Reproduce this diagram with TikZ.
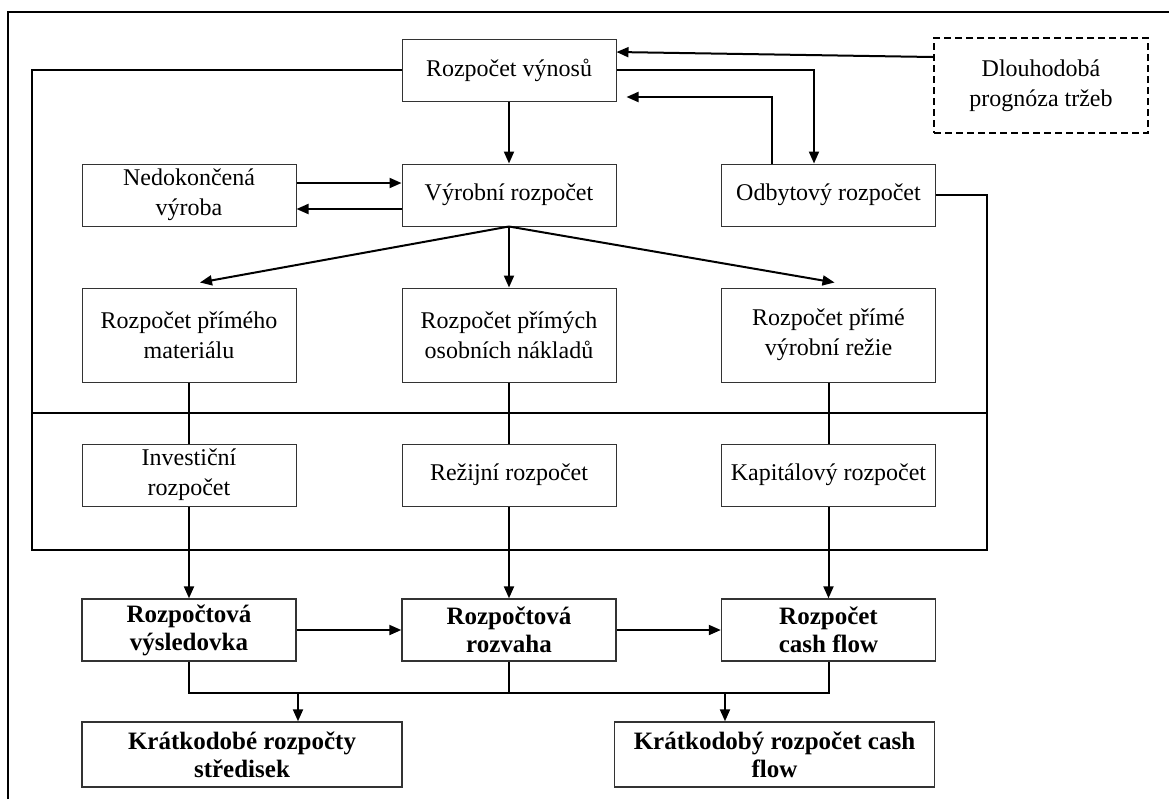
\documentclass[tikz,border=0pt]{standalone}
\usepackage{fontspec}
\setmainfont{Liberation Serif}
\usetikzlibrary{arrows.meta}

\begin{document}
\begin{tikzpicture}[x=0.5pt,y=-0.5pt,
    box/.style={draw=black!80, line width=0.5pt, minimum width=107pt, minimum height=31pt,
        inner sep=0pt, align=center, font=\fontsize{12}{15}\selectfont},
    hibox/.style={box, minimum height=47pt},
    dashbox/.style={box, draw=black, line width=1pt, dash pattern=on 3.5pt off 2pt, minimum height=47.5pt},
    boldbox/.style={box, line width=0.7pt, font=\fontsize{12.5}{14}\selectfont\bfseries},
    widebox/.style={boldbox, minimum width=160pt, minimum height=32.5pt},
    arr/.style={line width=1pt, -{Triangle[length=6pt,width=5pt]}},
    link/.style={line width=1pt}]
    \useasboundingbox (0,0) rectangle (1169,799);

    % --- Cadre extérieur ---
    \coordinate (fa) at (8,799);
    \coordinate (fb) at (8,12);
    \coordinate (fc) at (1169,12);
    \draw[line width=1pt] (fa) -- (fb) -- (fc);

    % --- Rozpočty ---
    \node[box] (vynos) at (509,70) {Rozpočet výnosů};
    \node[dashbox] (prognoza) at (1041,85.5) {Dlouhodobá\\prognóza tržeb};
    \node[box] (nedok) at (189,195) {Nedokončená\\výroba};
    \node[box] (vyrob) at (509,195) {Výrobní rozpočet};
    \node[box] (odbyt) at (828.5,195) {Odbytový rozpočet};
    \node[hibox] (mat) at (189,335) {Rozpočet přímého\\materiálu};
    \node[hibox] (osob) at (509,335) {Rozpočet přímých\\osobních nákladů};
    \node[hibox] (rezie) at (828.5,335) {Rozpočet přímé\\výrobní režie};
    \node[box] (invest) at (189,475) {Investiční\\rozpočet};
    \node[box] (rezij) at (509,475) {Režijní rozpočet};
    \node[box] (kapit) at (828.5,475) {Kapitálový rozpočet};
    \node[boldbox] (vysl) at (189,630) {Rozpočtová\\výsledovka};
    \node[boldbox] (rozv) at (509,630) {Rozpočtová\\rozvaha};
    \node[boldbox] (cash) at (828.5,630) {Rozpočet\\cash flow};
    \node[widebox] (kratk) at (242,754.5) {Krátkodobé rozpočty\\středisek};
    \node[widebox] (kcash) at (774.5,754.5) {Krátkodobý rozpočet cash\\flow};

    % --- Cadre intérieur et ligne de séparation ---
    \coordinate (rl) at (32,413);
    \coordinate (rr) at (987,413);
    \coordinate (fl) at (32,550);
    \coordinate (fr) at (987,550);
    \coordinate (bus) at (0,693);
    \draw[link] (vynos.west) -- (vynos.west -| fl) -- (fl) -- (fr) -- (fr |- odbyt.east) -- (odbyt.east);
    \draw[link] (rl) -- (rr);

    % --- Flèches du haut ---
    \draw[arr] ([yshift=14.25pt]prognoza.west) -- ([yshift=9pt]vynos.east);
    \draw[arr] (vynos.east) -| ([xshift=-7.25pt]odbyt.north);
    \draw[arr] ([xshift=-28.25pt]odbyt.north) |- ([shift={(5pt,-13.5pt)}]vynos.east);
    \draw[arr] (vynos.south) -- (vyrob.north);
    \draw[arr] ([yshift=6pt]nedok.east) -- ([yshift=6pt]vyrob.west);
    \draw[arr] ([yshift=-7pt]vyrob.west) -- ([yshift=-7pt]nedok.east);

    % --- Éventail depuis le rozpočet výrobní ---
    \draw[arr] (vyrob.south) -- ([shift={(5.5pt,2.5pt)}]mat.north);
    \draw[arr] (vyrob.south) -- (osob.north);
    \draw[arr] (vyrob.south) -- ([shift={(3pt,2.5pt)}]rezie.north);

    % --- Liaisons verticales ---
    \foreach \a/\b in {mat/invest, osob/rezij, rezie/kapit}
        \draw[link] (\a.south) -- (\b.north);
    \foreach \a/\b in {invest/vysl, rezij/rozv, kapit/cash}
        \draw[arr] (\a.south) -- (\b.north);
    \draw[arr] (vysl.east) -- (rozv.west);
    \draw[arr] (rozv.east) -- (cash.west);

    % --- Bus du bas ---
    \draw[link] (vysl.south) |- (cash.south |- bus) -- (cash.south);
    \draw[link] (rozv.south) -- (rozv.south |- bus);
    \draw[arr] ([xshift=28pt]kratk.north |- bus) -- ([xshift=28pt]kratk.north);
    \draw[arr] ([xshift=-24.75pt]kcash.north |- bus) -- ([xshift=-24.75pt]kcash.north);

\end{tikzpicture}
\end{document}
